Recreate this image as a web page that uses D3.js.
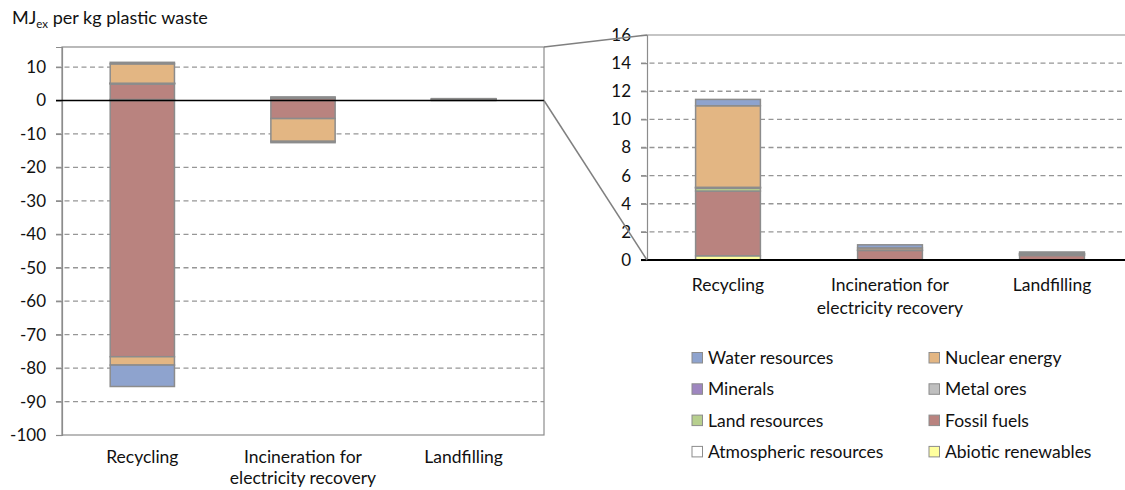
<!DOCTYPE html>
<html>
<head>
<meta charset="utf-8">
<script src="https://cdn.jsdelivr.net/npm/d3@7"></script>
<style>
  body { margin: 0; background: #fff; }
  svg { display: block; font-family: Lato, "Open Sans", sans-serif; }
</style>
</head>
<body>
<svg id="chart" width="1125" height="490"></svg>
<script>
// Treatment options
const categories = ["Recycling", "Incineration for electricity recovery", "Landfilling"];
const categoryLines = [["Recycling"], ["Incineration for", "electricity recovery"], ["Landfilling"]];

// Resource groups, in stacking order (bottom to top)
const resources = [
  "Abiotic renewables", "Atmospheric resources", "Fossil fuels", "Land resources",
  "Metal ores", "Minerals", "Nuclear energy", "Water resources"
];
const resourceColors = [
  "#FFFF9E", "#FFFFFF", "#B9837F", "#B7CF8E",
  "#BFBFBF", "#9E86C0", "#E3B683", "#8EA3CE"
];

// Exergy burdens (MJex per kg plastic waste), per treatment option
const burdenAbioticRenewables = [0.30, 0.00, 0.00];
const burdenAtmospheric       = [0.00, 0.00, 0.00];
const burdenFossilFuels       = [4.60, 0.68, 0.32];
const burdenLand              = [0.20, 0.00, 0.02];
const burdenMetalOres         = [0.05, 0.03, 0.08];
const burdenMinerals          = [0.02, 0.00, 0.01];
const burdenNuclear           = [5.80, 0.15, 0.04];
const burdenWater             = [0.45, 0.22, 0.10];

// Avoided exergy (credits) per treatment option
const creditAbioticRenewables = [0.0, 0.0, 0.0];
const creditAtmospheric       = [0.0, 0.0, 0.0];
const creditFossilFuels       = [-76.6, -5.4, 0.0];
const creditLand              = [0.0, 0.0, 0.0];
const creditMetalOres         = [0.0, 0.0, 0.0];
const creditMinerals          = [0.0, 0.0, 0.0];
const creditNuclear           = [-2.5, -6.8, 0.0];
const creditWater             = [-6.4, -0.4, 0.0];

// Axis ticks
const leftTicks = [10, 0, -10, -20, -30, -40, -50, -60, -70, -80, -90, -100];
const rightTicks = [0, 2, 4, 6, 8, 10, 12, 14, 16];

const burdens = [burdenAbioticRenewables, burdenAtmospheric, burdenFossilFuels, burdenLand,
                 burdenMetalOres, burdenMinerals, burdenNuclear, burdenWater];
const credits = [creditAbioticRenewables, creditAtmospheric, creditFossilFuels, creditLand,
                 creditMetalOres, creditMinerals, creditNuclear, creditWater];

const svg = d3.select("#chart");
const GRID = "#969696";
const BORDER = "#8C8C8C";
const INK = "#111";
const FS = 17.5;   // label font size
const TFS = 17;    // tick font size

// Table: one row per option, one burden and one credit column per resource
const keys = [];
resources.forEach(r => { keys.push(r + "|b"); keys.push(r + "|c"); });
const table = categories.map((c, i) => {
  const row = { category: c };
  resources.forEach((r, j) => { row[r + "|b"] = burdens[j][i]; row[r + "|c"] = credits[j][i]; });
  return row;
});
const colorOf = k => resourceColors[resources.indexOf(k.split("|")[0])];

const stackAll = d3.stack().keys(keys).offset(d3.stackOffsetDiverging)(table);

// ---------- Left panel: full range ----------
const L = { x0: 62, x1: 544, y0: 47, y1: 435 };
const xL = d3.scaleBand().domain(categories).range([L.x0, L.x1]).paddingInner(0.6).paddingOuter(0.3);
const yL = d3.scaleLinear().domain([-100, 16]).range([L.y1, L.y0]);

const gL = svg.append("g");
// dashed gridlines
gL.selectAll("line.grid").data(leftTicks.filter(t => t !== 0 && t !== -100)).join("line")
  .attr("x1", L.x0 - 6).attr("x2", L.x1)
  .attr("y1", d => yL(d)).attr("y2", d => yL(d))
  .attr("stroke", GRID).attr("stroke-width", 1.3).attr("stroke-dasharray", "5,3.5");
// plot frame
gL.append("rect").attr("x", L.x0).attr("y", L.y0)
  .attr("width", L.x1 - L.x0).attr("height", L.y1 - L.y0)
  .attr("fill", "none").attr("stroke", BORDER).attr("stroke-width", 1.2);

const axL = d3.axisLeft(yL).tickValues(leftTicks).tickSize(6).tickPadding(10).tickFormat(d3.format("d"));
const axisL = gL.append("g").attr("transform", `translate(${L.x0},0)`).call(axL);
axisL.select(".domain").attr("stroke", BORDER).attr("stroke-width", 1.2);
axisL.selectAll(".tick line").attr("stroke", BORDER).attr("stroke-width", 1.2);
axisL.selectAll(".tick text").attr("font-size", TFS).attr("fill", INK)
  .attr("font-family", "Lato, sans-serif").text(d => d < 0 ? "-" + Math.abs(d) : d);

// stacked bars
gL.selectAll("g.layer").data(stackAll).join("g")
  .attr("fill", d => colorOf(d.key))
  .selectAll("rect").data(d => d).join("rect")
  .attr("x", d => xL(d.data.category))
  .attr("width", xL.bandwidth())
  .attr("y", d => yL(Math.max(d[0], d[1])))
  .attr("height", d => Math.abs(yL(d[0]) - yL(d[1])))
  .attr("stroke", BORDER).attr("stroke-width", 1.5)
  .attr("visibility", d => Math.abs(d[1] - d[0]) > 0 ? "visible" : "hidden");

// zero line
gL.append("line").attr("x1", L.x0 - 6).attr("x2", L.x1)
  .attr("y1", yL(0)).attr("y2", yL(0)).attr("stroke", "#000").attr("stroke-width", 1.6);

// category labels
categoryLines.forEach((lines, i) => {
  const cx = xL(categories[i]) + xL.bandwidth() / 2;
  const t = gL.append("text").attr("text-anchor", "middle")
    .attr("font-size", FS).attr("fill", INK).attr("x", cx).attr("y", 463);
  lines.forEach((ln, k) => t.append("tspan").attr("x", cx).attr("dy", k === 0 ? 0 : 21).text(ln));
});

// unit label
const title = svg.append("text").attr("x", 12).attr("y", 24).attr("font-size", 18).attr("fill", INK);
title.append("tspan").text("MJ");
title.append("tspan").attr("font-size", 11.5).attr("dy", 4).text("ex");
title.append("tspan").attr("dy", -4).text(" per kg plastic waste");

// ---------- Right panel: zoom on positive burdens ----------
const R = { x0: 647, x1: 1133, y0: 35, y1: 260 };
const xR = d3.scaleBand().domain(categories).range([R.x0, R.x1]).paddingInner(0.6).paddingOuter(0.3);
const yR = d3.scaleLinear().domain([0, 16]).range([R.y1, R.y0]);

const burdenKeys = keys.filter(k => k.endsWith("|b"));
const stackPos = d3.stack().keys(burdenKeys)(table);

const gR = svg.append("g");
gR.selectAll("line.grid").data(rightTicks.filter(t => t > 0 && t < 16)).join("line")
  .attr("x1", R.x0 - 6).attr("x2", R.x1)
  .attr("y1", d => yR(d)).attr("y2", d => yR(d))
  .attr("stroke", GRID).attr("stroke-width", 1.3).attr("stroke-dasharray", "5,3.5");
gR.append("line").attr("x1", R.x0).attr("x2", R.x1)
  .attr("y1", yR(16)).attr("y2", yR(16)).attr("stroke", BORDER).attr("stroke-width", 1.2);

const axR = d3.axisLeft(yR).tickValues(rightTicks).tickSize(6).tickPadding(10).tickFormat(d3.format("d"));
const axisR = gR.append("g").attr("transform", `translate(${R.x0},0)`).call(axR);
axisR.select(".domain").attr("stroke", BORDER).attr("stroke-width", 1.2);
axisR.selectAll(".tick line").attr("stroke", BORDER).attr("stroke-width", 1.2);
axisR.selectAll(".tick text").attr("font-size", TFS).attr("fill", INK).attr("font-family", "Lato, sans-serif");

gR.selectAll("g.layer").data(stackPos).join("g")
  .attr("fill", d => colorOf(d.key))
  .selectAll("rect").data(d => d).join("rect")
  .attr("x", d => xR(d.data.category))
  .attr("width", xR.bandwidth())
  .attr("y", d => yR(d[1]))
  .attr("height", d => yR(d[0]) - yR(d[1]))
  .attr("stroke", BORDER).attr("stroke-width", 1.5)
  .attr("visibility", d => (d[1] - d[0]) > 0 ? "visible" : "hidden");

gR.append("line").attr("x1", R.x0 - 6).attr("x2", R.x1)
  .attr("y1", yR(0)).attr("y2", yR(0)).attr("stroke", "#000").attr("stroke-width", 2.2);

categoryLines.forEach((lines, i) => {
  const cx = xR(categories[i]) + xR.bandwidth() / 2;
  const t = gR.append("text").attr("text-anchor", "middle")
    .attr("font-size", FS).attr("fill", INK).attr("x", cx).attr("y", 291);
  lines.forEach((ln, k) => t.append("tspan").attr("x", cx).attr("dy", k === 0 ? 0 : 23).text(ln));
});

// connector lines between the panels
svg.append("line").attr("x1", L.x1).attr("y1", yL(16)).attr("x2", R.x0).attr("y2", yR(16))
  .attr("stroke", "#808080").attr("stroke-width", 1.5);
svg.append("line").attr("x1", L.x1).attr("y1", yL(0)).attr("x2", R.x0).attr("y2", yR(0))
  .attr("stroke", "#808080").attr("stroke-width", 1.5);

// ---------- Legend ----------
const legendOrder = resources.slice().reverse();
const legend = svg.append("g");
legendOrder.forEach((r, i) => {
  const col = i % 2, row = Math.floor(i / 2);
  const x = col === 0 ? 692 : 929;
  const y = 358 + row * 31.3;
  legend.append("rect").attr("x", x).attr("y", y - 5.5).attr("width", 10.5).attr("height", 10.5)
    .attr("fill", resourceColors[resources.indexOf(r)]).attr("stroke", BORDER).attr("stroke-width", 1);
  legend.append("text").attr("x", x + 16).attr("y", y + 6)
    .attr("font-size", FS).attr("fill", INK).text(r);
});
</script>
</body>
</html>
